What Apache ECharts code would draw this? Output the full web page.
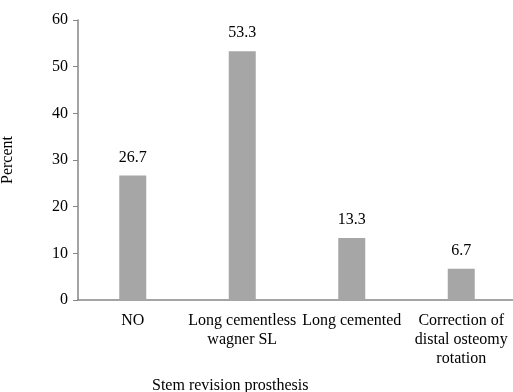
<!DOCTYPE html>
<html>
<head>
<meta charset="utf-8">
<script src="https://cdn.jsdelivr.net/npm/echarts@6/dist/echarts.min.js"></script>
<style>
  html, body { margin: 0; padding: 0; background: #ffffff; }
  #chart { width: 513px; height: 392px; }
</style>
</head>
<body>
<div id="chart"></div>
<script>
// Stem revision prosthesis categories and their percentages
const categories = ['NO', 'Long cementless\nwagner SL', 'Long cemented', 'Correction of\ndistal osteomy\nrotation'];
const percentValues = [26.7, 53.3, 13.3, 6.7];
const yTicks = { min: 0, max: 60, interval: 10 };

const FONT = '"Liberation Serif", "Times New Roman", serif';
const AXIS_GREY = '#868686';

const chart = echarts.init(document.getElementById('chart'), null, { renderer: 'canvas' });

chart.setOption({
  animation: false,
  backgroundColor: '#ffffff',
  textStyle: { fontFamily: FONT },
  grid: { left: 78, top: 20, width: 438, height: 280, containLabel: false, outerBoundsMode: 'none' },
  xAxis: {
    type: 'category',
    data: categories,
    axisLine: { show: true, lineStyle: { color: AXIS_GREY, width: 1.5 } },
    axisTick: { show: false },
    axisLabel: {
      interval: 0,
      margin: 11,
      color: '#000000',
      fontFamily: FONT,
      fontSize: 16,
      lineHeight: 19,
      align: 'center'
    }
  },
  yAxis: {
    type: 'value',
    min: yTicks.min,
    max: yTicks.max,
    interval: yTicks.interval,
    name: 'Percent',
    nameLocation: 'middle',
    nameGap: 62,
    nameRotate: 90,
    nameTextStyle: { color: '#000000', fontFamily: FONT, fontSize: 16 },
    axisLine: { show: true, lineStyle: { color: AXIS_GREY, width: 1.5 } },
    axisTick: { show: true, length: 5, lineStyle: { color: AXIS_GREY, width: 1 } },
    splitLine: { show: false },
    axisLabel: { color: '#000000', fontFamily: FONT, fontSize: 16, margin: 10 }
  },
  graphic: [{
    type: 'text',
    left: 152,
    top: 378,
    style: {
      text: 'Stem revision prosthesis',
      fill: '#000000',
      font: '16px ' + FONT
    }
  }],
  series: [{
    type: 'bar',
    data: percentValues,
    barWidth: 27,
    itemStyle: { color: '#a6a6a6' },
    label: {
      show: true,
      position: 'top',
      distance: 10,
      color: '#000000',
      fontFamily: FONT,
      fontSize: 16,
      formatter: p => p.value.toFixed(1)
    }
  }]
});
</script>
</body>
</html>
